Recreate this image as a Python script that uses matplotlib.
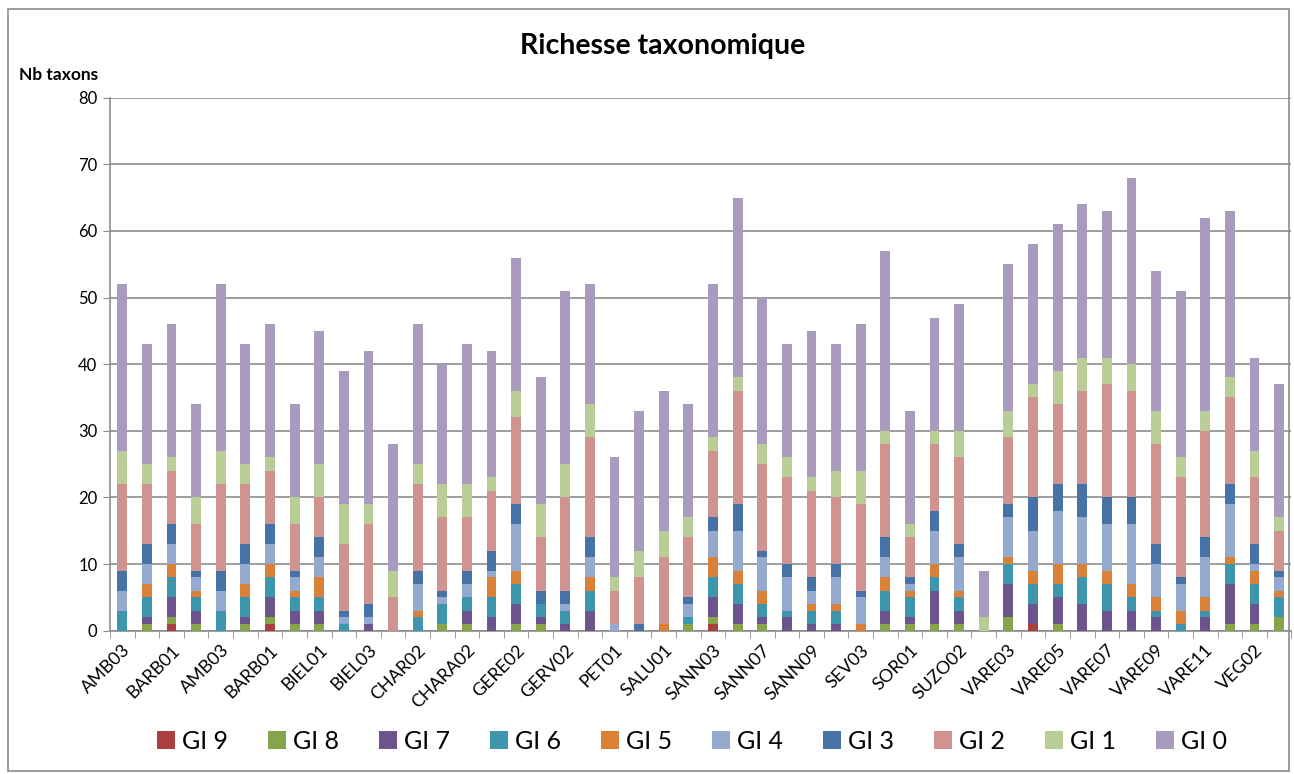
import matplotlib.pyplot as plt
from matplotlib.patches import Rectangle
import numpy as np

plt.rcParams["font.family"] = ["Lato", "DejaVu Sans"]

# one tick label every two stations
tick_labels = ["AMB03", "BARB01", "AMB03", "BARB01", "BIEL01", "BIEL03",
               "CHAR02", "CHARA02", "GERE02", "GERV02", "PET01", "SALU01",
               "SANN03", "SANN07", "SANN09", "SEV03", "SOR01", "SUZO02",
               "VARE03", "VARE05", "VARE07", "VARE09", "VARE11", "VEG02"]

groups = ["GI 9", "GI 8", "GI 7", "GI 6", "GI 5", "GI 4", "GI 3", "GI 2", "GI 1", "GI 0"]

gi9 = [0, 0, 1, 0, 0, 0, 1, 0, 0, 0, 0, 0, 0, 0, 0, 0,
       0, 0, 0, 0, 0, 0, 0, 0, 1, 0, 0, 0, 0, 0, 0, 0,
       0, 0, 0, 0, 0, 1, 0, 0, 0, 0, 0, 0, 0, 0, 0, 0]
gi8 = [0, 1, 1, 1, 0, 1, 1, 1, 1, 0, 0, 0, 0, 1, 1, 0,
       1, 1, 0, 0, 0, 0, 0, 1, 1, 1, 1, 0, 0, 0, 0, 1,
       1, 1, 1, 0, 2, 0, 1, 0, 0, 0, 0, 0, 0, 1, 1, 2]
gi7 = [0, 1, 3, 2, 0, 1, 3, 2, 2, 0, 1, 0, 0, 0, 2, 2,
       3, 1, 1, 3, 0, 0, 0, 0, 3, 3, 1, 2, 1, 1, 0, 2,
       1, 5, 2, 0, 5, 3, 4, 4, 3, 3, 2, 0, 2, 6, 3, 0]
gi6 = [3, 3, 3, 2, 3, 3, 3, 2, 2, 1, 0, 0, 2, 3, 2, 3,
       3, 2, 2, 3, 0, 0, 0, 1, 3, 3, 2, 1, 2, 2, 0, 3,
       3, 2, 2, 0, 3, 3, 2, 4, 4, 2, 1, 1, 1, 3, 3, 3]
gi5 = [0, 2, 2, 1, 0, 2, 2, 1, 3, 0, 0, 0, 1, 0, 0, 3,
       2, 0, 0, 2, 0, 0, 1, 0, 3, 2, 2, 0, 1, 1, 1, 2,
       1, 2, 1, 0, 1, 2, 3, 2, 2, 2, 2, 2, 2, 1, 2, 1]
gi4 = [3, 3, 3, 2, 3, 3, 3, 2, 3, 1, 1, 0, 4, 1, 2, 1,
       7, 0, 1, 3, 1, 0, 0, 2, 4, 6, 5, 5, 2, 4, 4, 3,
       1, 5, 5, 0, 6, 6, 8, 7, 7, 9, 5, 4, 6, 8, 1, 2]
gi3 = [3, 3, 3, 1, 3, 3, 3, 1, 3, 1, 2, 0, 2, 1, 2, 3,
       3, 2, 2, 3, 0, 1, 0, 1, 2, 4, 1, 2, 2, 2, 1, 3,
       1, 3, 2, 0, 2, 5, 4, 5, 4, 4, 3, 1, 3, 3, 3, 1]
gi2 = [13, 9, 8, 7, 13, 9, 8, 7, 6, 10, 12, 5, 13, 11, 8, 9,
       13, 8, 14, 15, 5, 7, 10, 9, 10, 17, 13, 13, 13, 10, 13, 14,
       6, 10, 13, 0, 10, 15, 12, 14, 17, 16, 15, 15, 16, 13, 10, 6]
gi1 = [5, 3, 2, 4, 5, 3, 2, 4, 5, 6, 3, 4, 3, 5, 5, 2,
       4, 5, 5, 5, 2, 4, 4, 3, 2, 2, 3, 3, 2, 4, 5, 2,
       2, 2, 4, 2, 4, 2, 5, 5, 4, 4, 5, 3, 3, 3, 4, 2]
gi0 = [25, 18, 20, 14, 25, 18, 20, 14, 20, 20, 23, 19, 21, 18, 21, 19,
       20, 19, 26, 18, 18, 21, 21, 17, 23, 27, 22, 17, 22, 19, 22, 27,
       17, 17, 19, 7, 22, 21, 22, 23, 22, 28, 21, 25, 29, 25, 14, 20]

colors = ["#A9403F", "#86A44A", "#6E548D", "#3D96AE", "#DA8137",
          "#93A9CF", "#4573A7", "#D19392", "#B9CD96", "#A99BBD"]

series = [gi9, gi8, gi7, gi6, gi5, gi4, gi3, gi2, gi1, gi0]
x = np.arange(len(gi0))

fig = plt.figure(figsize=(12.94, 7.74), dpi=100)
ax = fig.add_axes([0.085, 0.185, 0.913, 0.689])

bottom = np.zeros(len(x))
for name, vals, col in zip(groups, series, colors):
    ax.bar(x, vals, width=0.4, bottom=bottom, color=col, label=name, zorder=3)
    bottom += np.array(vals)

ax.set_xlim(-0.5, len(x) - 0.5)
ax.set_ylim(0, 80)
ax.set_yticks(range(0, 81, 10))
ax.yaxis.grid(True, color="#8c8c8c", linewidth=1.2, zorder=0)
ax.tick_params(axis="y", labelsize=12, color="#8c8c8c", length=5, pad=4)

# labels under every other bar, tick marks on the bar boundaries
ax.set_xticks(x[::2])
ax.set_xticklabels(tick_labels, rotation=45, ha="right", rotation_mode="anchor", fontsize=13)
ax.tick_params(axis="x", which="major", length=0, pad=8)
ax.set_xticks(np.arange(-0.5, len(x), 1), minor=True)
ax.tick_params(axis="x", which="minor", length=5, color="#8c8c8c")

for side in ["top", "right"]:
    ax.spines[side].set_visible(False)
for side in ["left", "bottom"]:
    ax.spines[side].set_color("#8c8c8c")
    ax.spines[side].set_linewidth(1.2)

fig.text(0.512, 0.94, "Richesse taxonomique", ha="center", va="center",
         fontsize=20.5, fontweight="bold")
fig.text(0.015, 0.903, "Nb taxons", ha="left", va="center", fontsize=12.5, fontweight="bold")

ax.legend(loc="center", bbox_to_anchor=(0.535, 0.042), bbox_transform=fig.transFigure,
          ncol=10, frameon=False, fontsize=18, handlelength=0.7, handleheight=0.7,
          handletextpad=0.3, columnspacing=1.6)

fig.patches.append(Rectangle((0.006, 0.004), 0.99, 0.984, transform=fig.transFigure,
                             fill=False, edgecolor="#8c8c8c", linewidth=1.2))

fig.savefig("out.png", dpi=100)
